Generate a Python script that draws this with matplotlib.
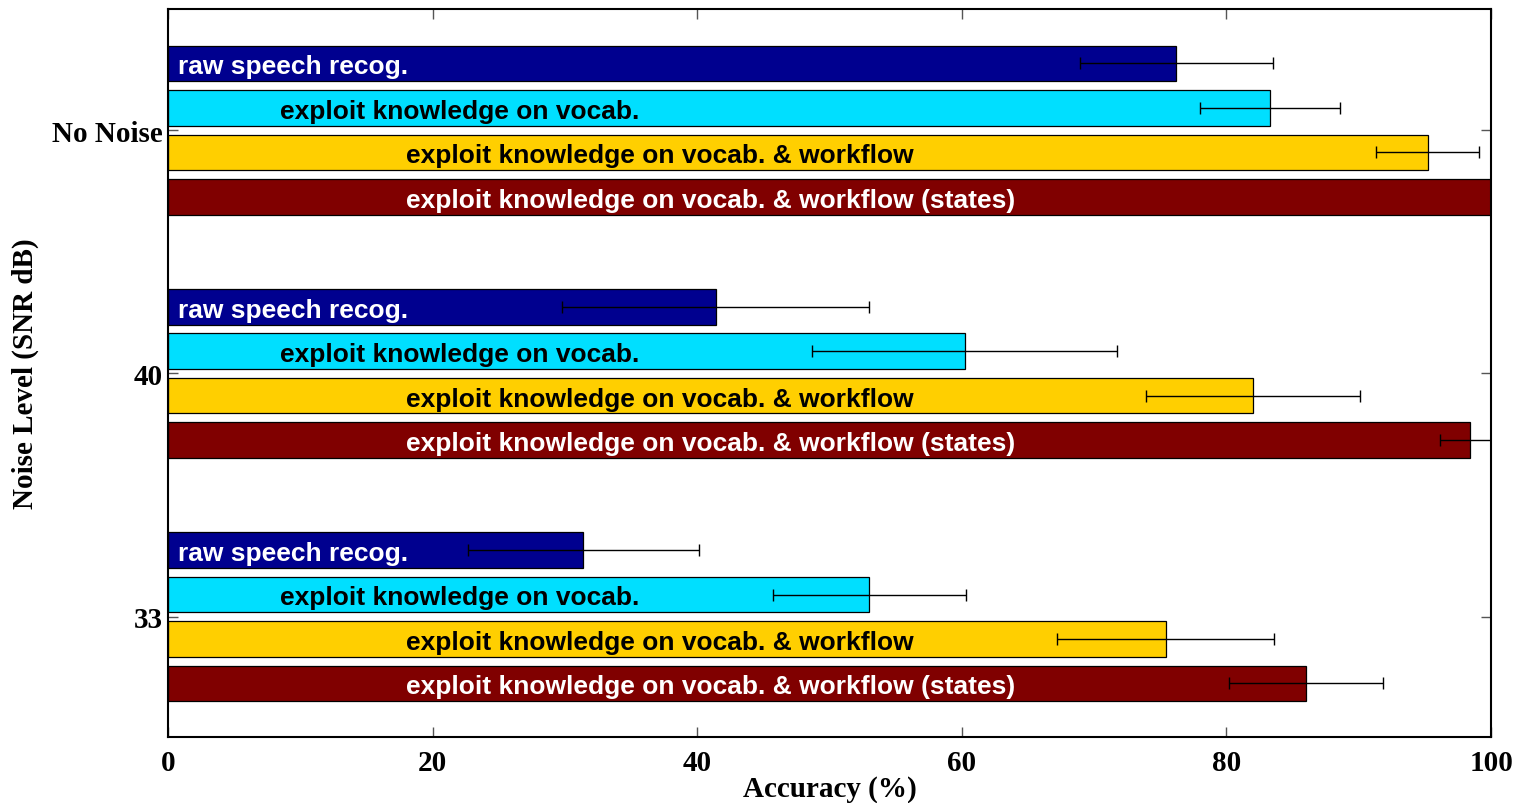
import matplotlib
matplotlib.use("Agg")
import matplotlib.pyplot as plt
import numpy as np
from matplotlib import font_manager

# Noise levels (top to bottom) and methods
levels = ["No Noise", "40", "33"]
methods = [
    "raw speech recog.",
    "exploit knowledge on vocab.",
    "exploit knowledge on vocab. & workflow",
    "exploit knowledge on vocab. & workflow (states)",
]

# Mean accuracy (%) per method, one value per noise level
acc_raw = [76.2, 41.4, 31.4]
acc_vocab = [83.3, 60.2, 53.0]
acc_workflow = [95.2, 82.0, 75.4]
acc_states = [100.0, 98.4, 86.0]

# Standard deviation (%) per method
err_raw = [7.3, 11.6, 8.7]
err_vocab = [5.3, 11.5, 7.3]
err_workflow = [3.9, 8.1, 8.2]
err_states = [0.0, 2.3, 5.8]

x_ticks = [0, 20, 40, 60, 80, 100]

means = [acc_raw, acc_vocab, acc_workflow, acc_states]
errs = [err_raw, err_vocab, err_workflow, err_states]
colors = ["#00008F", "#00DFFF", "#FFCF00", "#800000"]
text_colors = ["white", "black", "black", "white"]
text_x = [0.75, 8.5, 18.0, 18.0]
offsets = [-0.274, -0.0915, 0.0915, 0.274]
bar_h = 0.146

installed = {f.name for f in font_manager.fontManager.ttflist}
narrow = "Liberation Sans Narrow" if "Liberation Sans Narrow" in installed else "Liberation Sans"
serif = "Liberation Serif"

fig = plt.figure(figsize=(15.2, 8.04), dpi=100)
ax = fig.add_axes([0.1105, 0.0821, 0.8705, 0.9055])

ypos = np.arange(len(levels))
for i in range(4):
    y = ypos + offsets[i]
    ax.barh(y, means[i], height=bar_h, color=colors[i], edgecolor="black",
            linewidth=0.9, zorder=2)
    ax.errorbar(means[i], y, xerr=errs[i], fmt="none", ecolor="black",
                elinewidth=1.0, capsize=4, capthick=1.0, zorder=3, clip_on=True)
    for yy in y:
        ax.text(text_x[i], yy + 0.012, methods[i], color=text_colors[i], ha="left",
                va="center", fontsize=19, fontweight="bold", family=narrow,
                zorder=4)

ax.set_xlim(0, 100)
ax.set_ylim(2.494, -0.498)
ax.set_xticks(x_ticks)
ax.set_yticks(ypos)
ax.set_yticklabels(levels)
ax.tick_params(direction="in", length=7, width=1, color="#555555",
               top=True, right=True, labelsize=21)
ax.tick_params(axis="x", pad=9)
ax.tick_params(axis="y", pad=4)
for lab in ax.get_xticklabels() + ax.get_yticklabels():
    lab.set_family(serif)
    lab.set_fontweight("bold")
for s in ax.spines.values():
    s.set_linewidth(1.5)
    s.set_color("black")

ax.set_xlabel("Accuracy (%)", family=serif, fontweight="bold", fontsize=21, va="center")
ax.xaxis.set_label_coords(0.5, -0.0714)
ax.set_ylabel("Noise Level (SNR dB)", family=serif, fontweight="bold", fontsize=21, va="center")
ax.yaxis.set_label_coords(-0.108, 0.5)

fig.savefig("out.png", dpi=100)
